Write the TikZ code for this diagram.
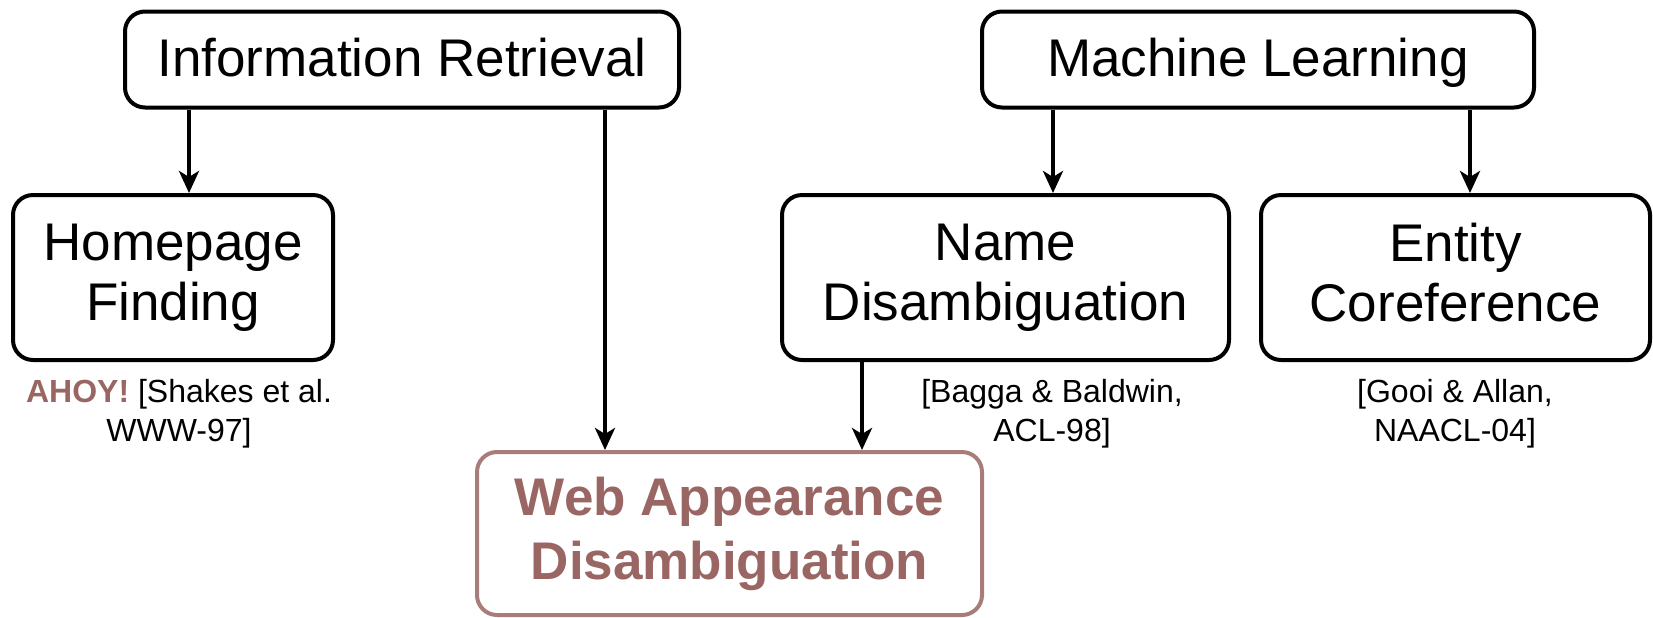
\documentclass[tikz,border=0pt]{standalone}
\usepackage{fontspec}
\setmainfont{Liberation Sans}
\usetikzlibrary{arrows.meta}
\definecolor{webred}{HTML}{9A6663}
\definecolor{webline}{HTML}{A87C79}
\newcommand{\boxstrut}{\rule[-5pt]{0pt}{27pt}}
\newcommand{\webstrut}{\rule[-3pt]{0pt}{27.5pt}}

\begin{document}
\begin{tikzpicture}
[x=0.5pt,y=-0.5pt,line width=2pt,%
  >={Stealth[length=11pt,width=10pt,inset=3pt]},%
  box/.style={draw,rounded corners=10pt,line width=2pt,align=center,%
    font=\fontsize{26.5}{30}\selectfont,%
    execute at begin node=\boxstrut,execute at end node=\boxstrut},%
  webbox/.style={box,draw=webline,text=webred,%
    font=\fontsize{26.5}{32}\selectfont\bfseries,%
    execute at begin node=\webstrut,execute at end node=\webstrut},%
  cite/.style={align=center,font=\fontsize{16}{19.5}\selectfont}]
\useasboundingbox (0,0) rectangle (1653,617);
% top row
\node[box,minimum width=277pt,minimum height=48pt] (ir) at (402,59.5) {Information Retrieval};
\node[box,minimum width=276pt,minimum height=48pt] (ml) at (1258,59.5) {Machine Learning};
% middle row
\node[box,minimum width=160pt,minimum height=82.5pt] (hp) at (173,277.5) {Homepage\\Finding};
\node[box,minimum width=223.5pt,minimum height=82.5pt] (nd) at (1005.5,277.5) {Name\\Disambiguation};
\node[box,minimum width=194.5pt,minimum height=82.5pt] (ec) at (1455.5,277.5) {Entity\\Coreference};
% citations
\node[cite] (hpcite) at (179,414) {\textcolor{webred}{\textbf{AHOY!}} [Shakes et al.\\WWW-97]};
\node[cite] (ndcite) at (1052,414) {[Bagga \& Baldwin,\\ACL-98]};
\node[cite] (eccite) at (1455,414) {[Gooi \& Allan,\\NAACL-04]};
% bottom
\node[webbox,minimum width=252.5pt,minimum height=81.5pt] (web) at (729.5,533.5) {Web Appearance\\Disambiguation};
% arrows
\draw[->] (ir.south -| 189,0) -- (hp.north -| 189,0);
\draw[->] (ir.south -| 605,0) -- (web.north -| 605,0);
\draw[->] (ml.south -| 1053,0) -- (nd.north -| 1053,0);
\draw[->] (ml.south -| 1470,0) -- (ec.north -| 1470,0);
\draw[->] (nd.south -| 862,0) -- (web.north -| 862,0);
\end{tikzpicture}
\end{document}
